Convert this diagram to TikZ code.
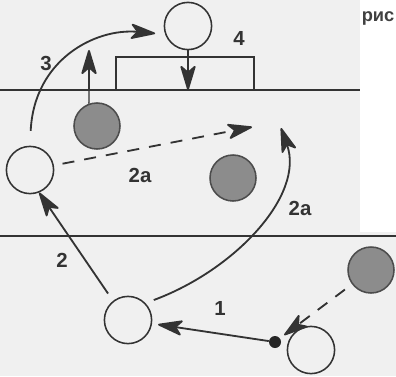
\documentclass[tikz,border=0pt]{standalone}
\usepackage{fontspec}
\setmainfont{Liberation Sans}
\usetikzlibrary{arrows.meta}
\begin{document}
\begin{tikzpicture}[x=0.25mm,y=-0.25mm,
    spieler/.style={circle,draw=black!80,line width=1.1pt,minimum size=11.8mm,inner sep=0pt},
    gegner/.style={spieler,fill=black!45,draw=black!70,minimum size=11.5mm},
    ballpunkt/.style={circle,fill=black!85,minimum size=3mm,inner sep=0pt},
    nr/.style={font=\fontsize{14.5}{14.5}\selectfont\bfseries,text=black!80},
    linie/.style={line width=1.3pt,draw=black!80},
    pfeil/.style={linie,-{Stealth[round,length=7mm,width=4.2mm,inset=1.8mm]}},
    lauf/.style={pfeil,dash pattern=on 3mm off 2.5mm}]
  \fill[black!6] (0,0) rectangle (396,376);
  \fill[white] (360,0) rectangle (396,232);
  \useasboundingbox (0,0) rectangle (396,376);
  \draw[linie] (0,90) -- (360,90);
  \draw[linie] (0,236) -- (396,236);
  \draw[linie] (116,90) |- (254,57) -- (254,90);
  \node[font=\fontsize{13}{13}\selectfont\bfseries,text=black!75,anchor=east,inner xsep=1pt] (ris) at (396,18) {рис};

  \node[spieler] (T) at (188,26) {};
  \node[gegner] (G1) at (97,126) {};
  \node[spieler] (L) at (30,170) {};
  \node[gegner] (G2) at (233,178) {};
  \node[spieler] (B) at (128,320) {};
  \node[ballpunkt] (D) at (275,342) {};
  \node[spieler] (P) at (311,350) {};
  \node[gegner] (G3) at (371,270) {};

  \coordinate (z4) at (188,90);
  \coordinate (zb) at (89,50);
  \coordinate (z2a) at (252,127);
  \coordinate (z2b) at (281,128);

  \draw[pfeil] (T) -- (z4);
  \draw[linie,line width=0.9pt] (G1.110) -- (89,90);
  \draw[pfeil] (89,90) -- (zb);
  \draw[pfeil,shorten <=3.7mm,shorten >=2.5mm] (L.north) .. controls (34,60) and (95,28) .. (T.200);
  \draw[lauf,shorten <=2.2mm] (L) -- (z2a);
  \draw[pfeil,shorten <=2.2mm] (B.44) .. controls (235,270) and (305,195) .. (z2b);
  \draw[pfeil,shorten <=2.2mm] (B.128) -- (L.292);
  \draw[pfeil,shorten >=1.5mm] (D) -- (B);
  \draw[lauf,shorten <=2.2mm,shorten >=1.3mm] (G3) -- (D);

  \node[nr] (n3) at (46,63) {3};
  \node[nr] (n4) at (239,38) {4};
  \node[nr] (n2a) at (140,175) {2a};
  \node[nr] (n2b) at (300,208) {2a};
  \node[nr] (n2) at (62,260) {2};
  \node[nr] (n1) at (220,308) {1};
\end{tikzpicture}
\end{document}
